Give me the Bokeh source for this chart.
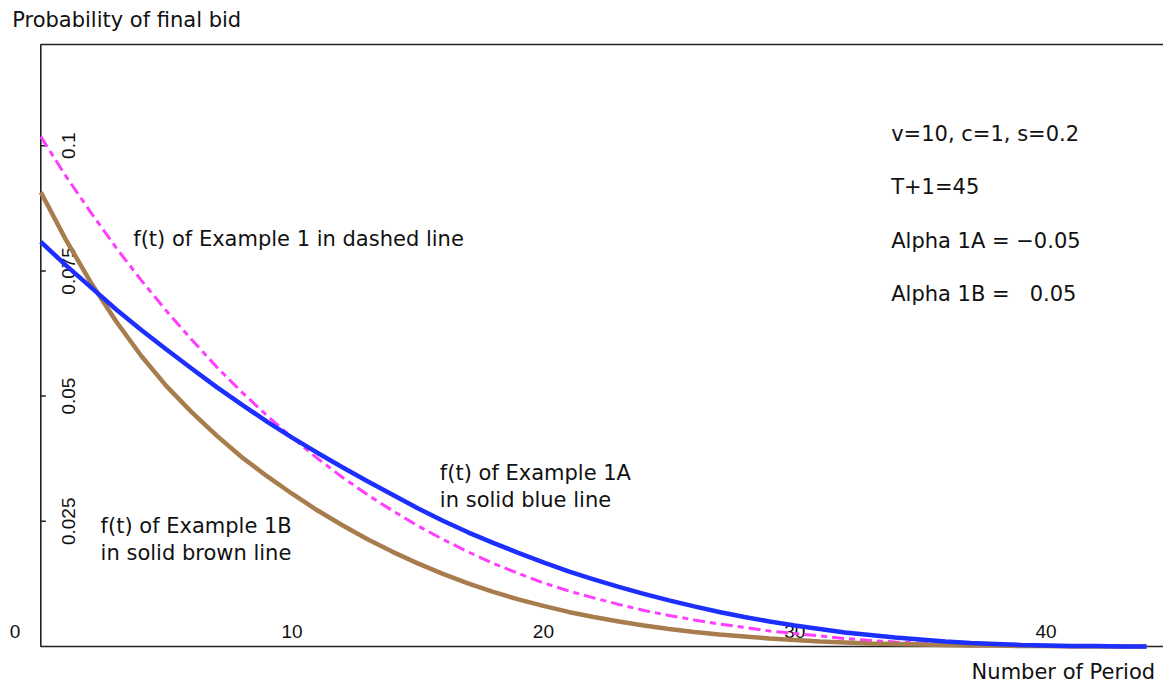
from math import pi
from bokeh.plotting import figure
from bokeh.models import Range1d, BoxAnnotation
from bokeh.core.properties import value
from bokeh.embed import file_html
from bokeh.resources import INLINE

# ---------------- data ----------------
periods = list(range(45))

# f(t) of Example 1 (dashed magenta)
f_example1 = [0.1018, 0.0939, 0.0866, 0.0796, 0.0731, 0.0670, 0.0613, 0.0558, 0.0508, 0.0461,
              0.0417, 0.0376, 0.0338, 0.0303, 0.0271, 0.0241, 0.0214, 0.0189, 0.0166, 0.0146,
              0.0127, 0.0111, 0.0097, 0.0084, 0.0072, 0.0062, 0.0053, 0.0045, 0.0038, 0.0031,
              0.0026, 0.0021, 0.0016, 0.0012, 0.0009, 0.0007, 0.0005, 0.0003, 0.0002, 0.0001,
              0.0001, 0.0, 0.0, 0.0, 0.0]

# f(t) of Example 1A (solid blue)
f_example1a = [0.0808, 0.0761, 0.0717, 0.0673, 0.0632, 0.0593, 0.0555, 0.0518, 0.0483, 0.0449,
               0.0417, 0.0387, 0.0358, 0.0330, 0.0303, 0.0276, 0.0251, 0.0228, 0.0207, 0.0187,
               0.0168, 0.0150, 0.0134, 0.0119, 0.0105, 0.0092, 0.0080, 0.0069, 0.0059, 0.0050,
               0.0042, 0.0035, 0.0028, 0.0023, 0.0018, 0.0014, 0.0010, 0.0007, 0.0005, 0.0003,
               0.0002, 0.0001, 0.0001, 0.0, 0.0]

# f(t) of Example 1B (solid brown)
f_example1b = [0.0907, 0.0812, 0.0726, 0.0649, 0.0580, 0.0520, 0.0468, 0.0421, 0.0378, 0.0340,
               0.0305, 0.0272, 0.0242, 0.0214, 0.0189, 0.0166, 0.0145, 0.0126, 0.0109, 0.0094,
               0.0081, 0.0069, 0.0059, 0.0050, 0.0042, 0.0035, 0.0029, 0.0024, 0.0020, 0.0016,
               0.0013, 0.0010, 0.0008, 0.0006, 0.0005, 0.0004, 0.0003, 0.0002, 0.0002, 0.0001,
               0.0001, 0.0, 0.0, 0.0, 0.0]

x_ticks = [10, 20, 30, 40]
x_tick_labels = ["10", "20", "30", "40"]
y_ticks = [0.025, 0.05, 0.075, 0.1]
y_tick_labels = ["0.025", "0.05", "0.075", "0.1"]

params_text = ["v=10, c=1, s=0.2", "T+1=45", "Alpha 1A = \u22120.05",
               "Alpha 1B = \u00a0\u00a00.05"]

# ---------------- styling / layout ----------------
TEXT_FONT = "DejaVu Sans"
TICK_FONT = "Liberation Sans"
TEXT_SIZE = "21px"
TICK_SIZE = "19px"
TEXT_COLOR = "#111111"
FRAME_COLOR = "#222222"

X_MIN, X_MAX = -1.604, 44.676      # whole canvas width in data units
Y_MIN, Y_MAX = -0.00759, 0.12899   # whole canvas height in data units
Y_TOP = 0.1202                     # upper edge of the drawn frame
TICK_LEN = 0.2
XTICK_LABEL_Y = 0.0030
YTICK_LABEL_X = 1.10

p = figure(width=1163, height=684, output_backend="svg", toolbar_location=None,
           x_range=Range1d(X_MIN, X_MAX), y_range=Range1d(Y_MIN, Y_MAX),
           min_border=0, min_border_left=0, min_border_right=0,
           min_border_top=0, min_border_bottom=0)
p.axis.visible = False
p.xgrid.visible = False
p.ygrid.visible = False
p.outline_line_color = None
p.background_fill_color = "white"
p.border_fill_color = "white"

# frame (left, top, bottom; the right side runs off the picture)
p.add_layout(BoxAnnotation(left=0, right=X_MAX + 5, bottom=0, top=Y_TOP,
                           fill_color=None, fill_alpha=0, line_color=FRAME_COLOR,
                           line_alpha=1.0, line_width=1.6, level="underlay"))

# inward y tick marks
p.segment(x0=[0] * len(y_ticks), y0=y_ticks, x1=[TICK_LEN] * len(y_ticks), y1=y_ticks,
          line_color=FRAME_COLOR, line_width=1.5)

# tick labels (under the curves)
p.text(x=x_ticks, y=[XTICK_LABEL_Y] * len(x_ticks), text=x_tick_labels,
       text_font=value(TICK_FONT), text_font_size=TICK_SIZE, text_color=TEXT_COLOR,
       text_align="center", text_baseline="alphabetic")
p.text(x=[-1.03], y=[XTICK_LABEL_Y], text=["0"],
       text_font=value(TICK_FONT), text_font_size=TICK_SIZE, text_color=TEXT_COLOR,
       text_align="center", text_baseline="alphabetic")
p.text(x=[YTICK_LABEL_X] * len(y_ticks), y=y_ticks, text=y_tick_labels, angle=pi / 2,
       text_font=value(TICK_FONT), text_font_size=TICK_SIZE, text_color=TEXT_COLOR,
       text_align="center", text_baseline="middle")

# curves
p.line(periods, f_example1, line_color="#ff3dff", line_width=3, line_dash="12 5 6 5")
p.line(periods, f_example1b, line_color="#a87d4d", line_width=4.5)
p.line(periods, f_example1a, line_color="#1c2fff", line_width=4.5)

# annotations
def note(xs, ys, texts, align="left"):
    p.text(x=xs, y=ys, text=texts, text_font=value(TEXT_FONT), text_font_size=TEXT_SIZE,
           text_color=TEXT_COLOR, text_align=align, text_baseline="alphabetic")

note([3.68], [0.0813], ["f(t) of Example 1 in dashed line"])
note([15.88, 15.88], [0.0347, 0.0292], ["f(t) of Example 1A", "in solid blue line"])
note([2.38, 2.38], [0.0240, 0.0186], ["f(t) of Example 1B", "in solid brown line"])
note([33.84] * 4, [0.1023, 0.0917, 0.0810, 0.0704], params_text)
note([-1.14], [0.1251], ["Probability of final bid"])
note([44.34], [-0.0050], ["Number of Period"], align="right")

open("out.html", "w").write(file_html(p, INLINE))
